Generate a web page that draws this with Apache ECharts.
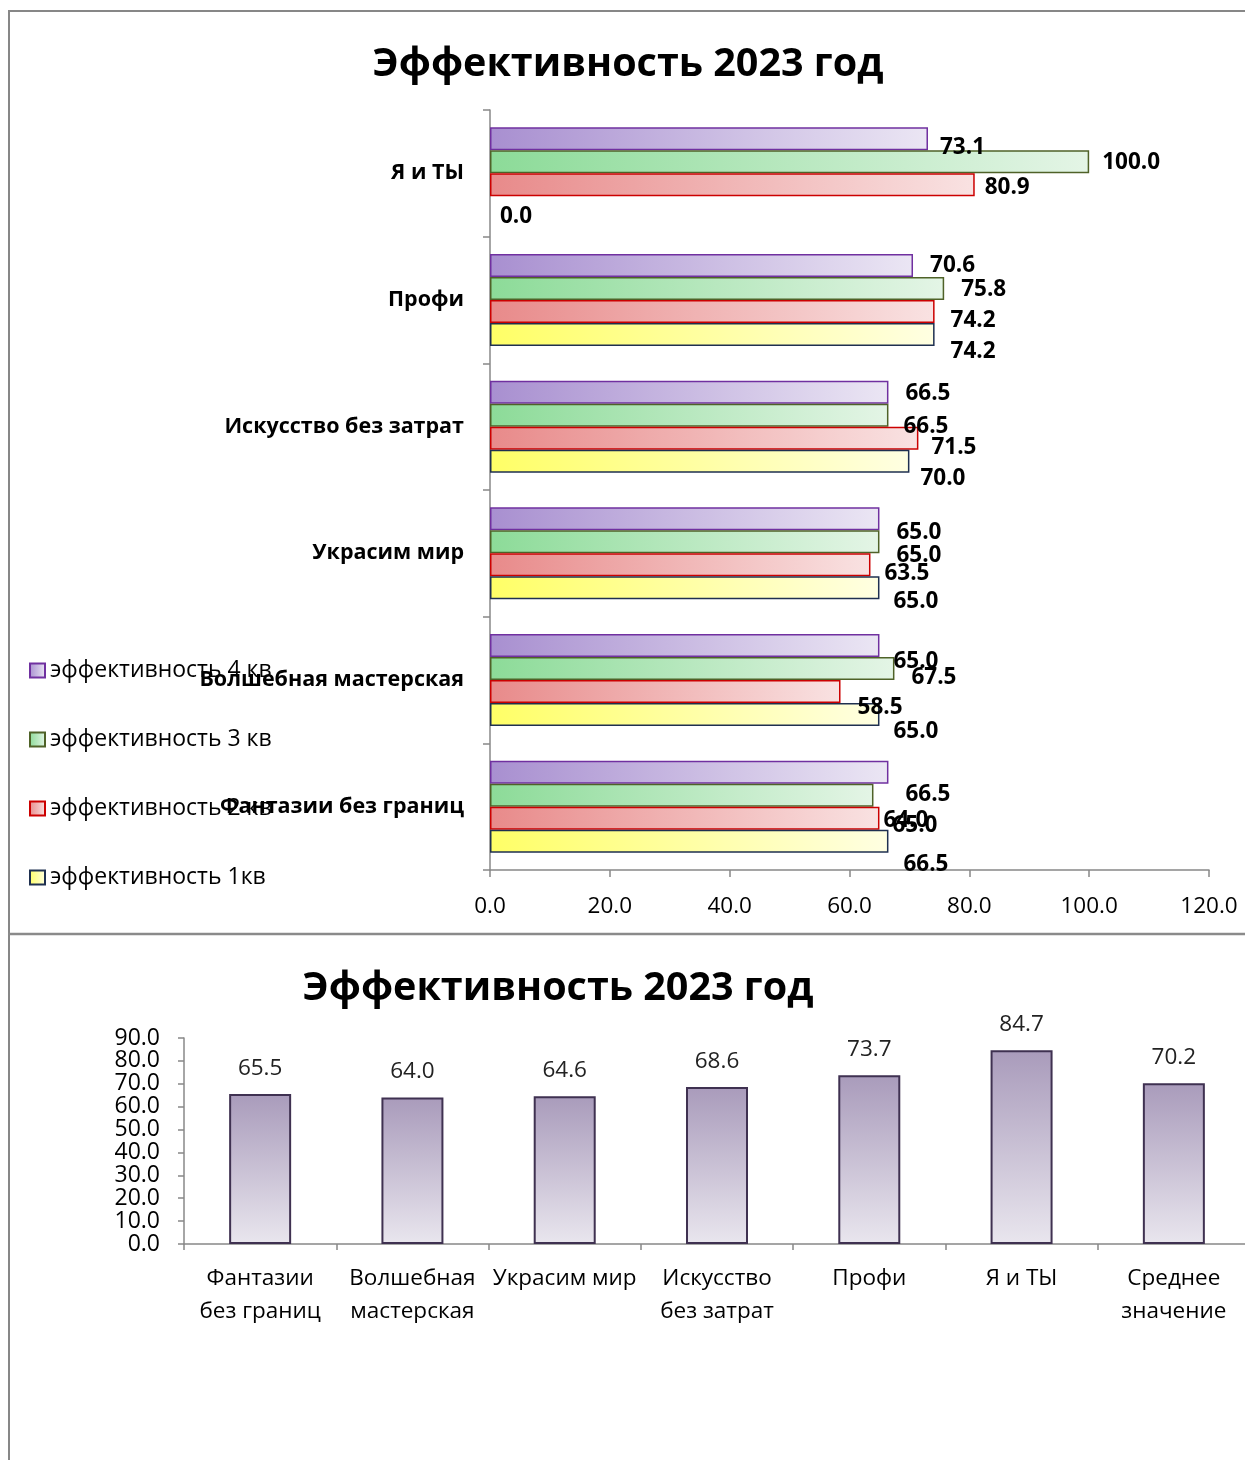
<!DOCTYPE html>
<html><head><meta charset="utf-8">
<script src="https://cdn.jsdelivr.net/npm/echarts@6/dist/echarts.min.js"></script>
<style>html,body{margin:0;padding:0;background:#fff;overflow:hidden}#c{width:1255px;height:1460px}</style>
</head><body><div id="c"></div>
<script>
// ---------- data ----------
const categories = ['Фантазии без границ', 'Волшебная мастерская', 'Украсим мир', 'Искусство без затрат', 'Профи', 'Я и ТЫ'];
const seriesNames = ['эффективность 4 кв', 'эффективность 3 кв', 'эффективность 2 кв', 'эффективность 1кв'];
const q4 = [66.5, 65.0, 65.0, 66.5, 70.6, 73.1];
const q3 = [64.0, 67.5, 65.0, 66.5, 75.8, 100.0];
const q2 = [65.0, 58.5, 63.5, 71.5, 74.2, 80.9];
const q1 = [66.5, 65.0, 65.0, 70.0, 74.2, 0.0];
const avgCategories = ['Фантазии\nбез границ', 'Волшебная\nмастерская', 'Украсим мир', 'Искусство\nбез затрат', 'Профи', 'Я и ТЫ', 'Среднее\nзначение'];
const avgValues = [65.5, 64.0, 64.6, 68.6, 73.7, 84.7, 70.2];
const titleText = 'Эффективность 2023 год';

// label nudges (as in the original, labels drift from their bars)
const nudges = [
  [[17, 22], [14, 16], [17, 14], [17, 1], [17, 0], [12, 9]],
  [[10, 25], [17, 9], [17, 14], [15, 11], [17, 1], [13, 1]],
  [[13, 7], [17, 16], [14, 9], [13, 9], [16, 9], [10, 3]],
  [[15, 23], [14, 17], [14, 14], [11, 17], [16, 17], [10, 9]]
];
const styles = [
  { from: '#a88fd0', to: '#ebe6f4', border: '#7030a0' },
  { from: '#8cdb98', to: '#e4f5e6', border: '#4f6228' },
  { from: '#e88a8a', to: '#f9e2e2', border: '#cc0000' },
  { from: '#ffff66', to: '#ffffe2', border: '#1f3050' }
];
const FONT = 'Open Sans';
const values = [q4, q3, q2, q1];

const topSeries = values.map((vals, si) => ({
  name: seriesNames[si],
  type: 'bar',
  xAxisIndex: 0, yAxisIndex: 0,
  barWidth: 23,
  barGap: '0%',
  itemStyle: {
    color: new echarts.graphic.LinearGradient(0, 0, 1, 0, [
      { offset: 0, color: styles[si].from }, { offset: 1, color: styles[si].to }
    ]),
    borderColor: styles[si].border,
    borderWidth: 1.5
  },
  label: {
    show: true, position: 'right', distance: 0,
    fontFamily: FONT, fontSize: 22.5, fontWeight: 'bold', color: '#000',
    formatter: p => p.value.toFixed(1)
  },
  data: vals.map((v, i) => {
    const item = { value: v, label: { offset: nudges[si][i] } };
    if (v === 0) item.itemStyle = { borderWidth: 0 };
    return item;
  })
}));

const chart = echarts.init(document.getElementById('c'), null, { renderer: 'canvas' });
chart.setOption({
  animation: false,
  backgroundColor: '#fff',
  textStyle: { fontFamily: FONT },
  title: [
    { text: titleText, left: 623, top: 40, textAlign: 'center',
      textStyle: { fontFamily: FONT, fontSize: 39.5, fontWeight: 'bold', color: '#000' } },
    { text: titleText, left: 553, top: 964, textAlign: 'center',
      textStyle: { fontFamily: FONT, fontSize: 39.5, fontWeight: 'bold', color: '#000' } }
  ],
  legend: {
    data: seriesNames,
    orient: 'vertical', left: 24, top: 654,
    itemWidth: 15, itemHeight: 14, itemGap: 46,
    icon: 'rect',
    textStyle: { fontFamily: FONT, fontSize: 23, color: '#000' }
  },
  graphic: [
    { type: 'line', shape: { x1: 9, y1: 10, x2: 9, y2: 1460 }, style: { stroke: '#878787', lineWidth: 2 } },
    { type: 'line', shape: { x1: 8, y1: 11, x2: 1255, y2: 11 }, style: { stroke: '#878787', lineWidth: 2 } },
    { type: 'line', shape: { x1: 8, y1: 934, x2: 1255, y2: 934 }, style: { stroke: '#8a8a8a', lineWidth: 2.5 } }
  ],
  grid: [
    { left: 490, width: 719, top: 110, bottom: 590 },
    { left: 184, width: 1066, top: 1038, bottom: 216 }
  ],
  xAxis: [
    { type: 'value', gridIndex: 0, min: 0, max: 120, interval: 20,
      axisLine: { show: true, lineStyle: { color: '#888', width: 1.5 } },
      axisTick: { show: true, length: 7, lineStyle: { color: '#888', width: 1.5 } },
      splitLine: { show: false },
      axisLabel: { fontFamily: FONT, fontSize: 22.5, color: '#000', margin: 25, formatter: v => v.toFixed(1) } },
    { type: 'category', gridIndex: 1, data: avgCategories,
      axisLine: { show: true, lineStyle: { color: '#888', width: 1.5 } },
      axisTick: { show: true, length: 6, lineStyle: { color: '#888', width: 1.5 } },
      axisLabel: { fontFamily: FONT, fontSize: 22.5, color: '#000', margin: 18, lineHeight: 33, interval: 0 } }
  ],
  yAxis: [
    { type: 'category', gridIndex: 0, data: categories,
      axisLine: { show: true, lineStyle: { color: '#888', width: 1.5 } },
      axisTick: { show: true, length: 7, lineStyle: { color: '#888', width: 1.5 } },
      axisLabel: { fontFamily: FONT, fontSize: 21.5, fontWeight: 'bold', color: '#000', margin: 26 } },
    { type: 'value', gridIndex: 1, min: 0, max: 90, interval: 10,
      axisLine: { show: true, lineStyle: { color: '#888', width: 1.5 } },
      axisTick: { show: true, length: 6, lineStyle: { color: '#888', width: 1.5 } },
      splitLine: { show: false },
      axisLabel: { fontFamily: FONT, fontSize: 23, color: '#000', margin: 24, formatter: v => v.toFixed(1) } }
  ],
  series: topSeries.concat([{
    name: 'Среднее',
    type: 'bar',
    xAxisIndex: 1, yAxisIndex: 1,
    barWidth: 62,
    itemStyle: {
      color: new echarts.graphic.LinearGradient(0, 0, 0, 1, [
        { offset: 0, color: '#a99bbb' }, { offset: 1, color: '#e9e6ee' }
      ]),
      borderColor: '#3f3151', borderWidth: 2
    },
    label: { show: true, position: 'top', distance: 14, fontFamily: FONT, fontSize: 22.5, color: '#222',
      formatter: p => p.value.toFixed(1) },
    data: avgValues
  }])
});
</script></body></html>
